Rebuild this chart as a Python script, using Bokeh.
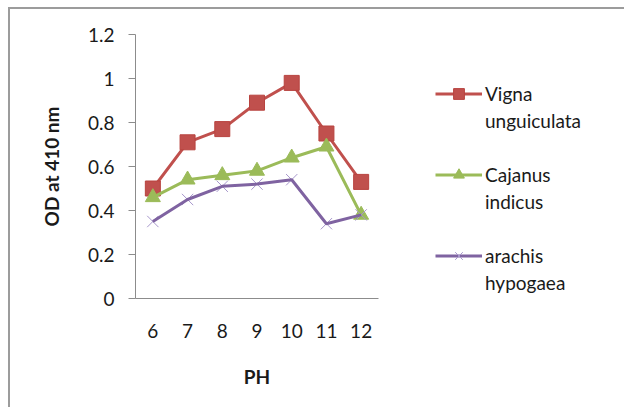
from bokeh.plotting import figure
from bokeh.models import Legend, LegendItem, FactorRange, FixedTicker, CustomJSTickFormatter
from bokeh.embed import file_html
from bokeh.resources import INLINE

ph = ["6", "7", "8", "9", "10", "11", "12"]
vigna = [0.50, 0.71, 0.77, 0.89, 0.98, 0.75, 0.53]
cajanus = [0.46, 0.54, 0.56, 0.58, 0.64, 0.69, 0.38]
arachis = [0.35, 0.45, 0.51, 0.52, 0.54, 0.34, 0.38]
y_ticks = [0, 0.2, 0.4, 0.6, 0.8, 1, 1.2]
legend_lines = [["Vigna", "unguiculata"], ["Cajanus", "indicus"], ["arachis", "hypogaea"]]

FONT = "Lato"
FS = "19px"
RED, GREEN, PURPLE, LAV = "#C0504D", "#9BBB59", "#7F63A1", "#A797CC"

p = figure(frame_width=243, frame_height=264, x_range=FactorRange(*ph), y_range=(0, 1.2),
           output_backend="svg", toolbar_location=None,
           min_border_left=125, min_border_right=20, min_border_top=25, min_border_bottom=109)
p.styles = {"margin-left": "8px", "margin-top": "7px",
            "border-left": "2px solid #9c9c9c", "border-top": "2px solid #9c9c9c"}
p.background_fill_color = "white"
p.border_fill_color = "white"
p.outline_line_color = None
p.xgrid.visible = False
p.ygrid.visible = False

# axes
p.yaxis.ticker = FixedTicker(ticks=y_ticks)
p.yaxis.formatter = CustomJSTickFormatter(code="return String(Math.round(tick*10)/10)")
p.yaxis.minor_tick_line_color = None
p.yaxis.major_tick_out = 7
p.yaxis.major_tick_in = 0
p.yaxis.major_label_standoff = 14
p.yaxis.axis_line_color = "#8c8c8c"
p.yaxis.major_tick_line_color = "#8c8c8c"
p.yaxis.axis_label = "OD at 410 nm"
p.yaxis.axis_label_standoff = 22
p.xaxis.axis_label = "PH"
p.xaxis.axis_label_standoff = 24
p.xaxis.major_tick_line_color = None
p.xaxis.major_tick_out = 0
p.xaxis.major_label_standoff = 25
p.xaxis.axis_line_color = "#8c8c8c"
for ax in (p.xaxis, p.yaxis):
    ax.major_label_text_font = FONT
    ax.major_label_text_font_size = FS
    ax.major_label_text_color = "#1a1a1a"
    ax.axis_label_text_font = FONT
    ax.axis_label_text_font_size = FS
    ax.axis_label_text_font_style = "bold"
    ax.axis_label_text_color = "#1a1a1a"

# series
rv_l = p.line(ph, vigna, line_color=RED, line_width=3)
rv_m = p.scatter(ph, vigna, marker="square", size=15, fill_color=RED, line_color="#B8433F")
rc_l = p.line(ph, cajanus, line_color=GREEN, line_width=3)
rc_m = p.scatter(ph, cajanus, marker="triangle", size=15, fill_color=GREEN, line_color=GREEN)
ra_m = p.scatter(ph, arachis, marker="x", size=16, line_color=LAV, line_width=1)
ra_l = p.line(ph, arachis, line_color=PURPLE, line_width=3)

dummy = p.line(x=[], y=[], line_alpha=0)

groups = [[rv_l, rv_m], [rc_l, rc_m], [ra_l, ra_m]]
items = []
for i, (rends, names) in enumerate(zip(groups, legend_lines)):
    items.append(LegendItem(label=names[0], renderers=rends))
    items.append(LegendItem(label=names[1], renderers=[dummy]))
    if i < len(groups) - 1:
        items.append(LegendItem(label=" ", renderers=[dummy]))

legend = Legend(items=items, location=(57, 2), padding=0, margin=0, spacing=0,
                glyph_width=47, glyph_height=27, label_height=27, label_standoff=3,
                label_text_font=FONT, label_text_font_size=FS, label_text_color="#1a1a1a",
                border_line_color=None, background_fill_alpha=0)
p.add_layout(legend, "right")

open("out.html", "w").write(file_html(p, INLINE))
